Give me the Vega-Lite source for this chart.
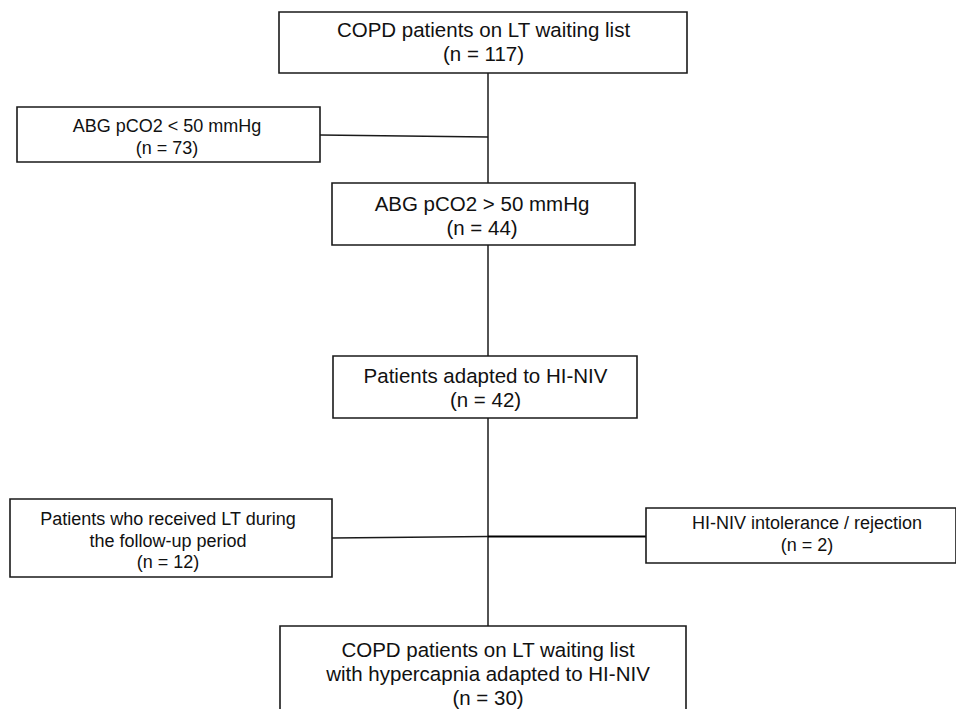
{
  "$schema": "https://vega.github.io/schema/vega-lite/v6.json",
  "width": 956,
  "height": 709,
  "padding": 0,
  "autosize": {"type": "none"},
  "background": "white",
  "config": {"view": {"stroke": null}},
  "datasets": {
    "boxes": [
      {"id": "top", "kind": "main", "x0": 279, "x1": 687, "y0": 12, "y1": 73, "tx": 483.5, "ty": 31, "label": "COPD patients on LT waiting list\n(n = 117)"},
      {"id": "low", "kind": "side", "x0": 17, "x1": 320, "y0": 107, "y1": 162, "tx": 167, "ty": 127, "label": "ABG pCO2 < 50 mmHg\n(n = 73)"},
      {"id": "high", "kind": "main", "x0": 332, "x1": 635, "y0": 183, "y1": 245, "tx": 482, "ty": 205, "label": "ABG pCO2 > 50 mmHg\n(n = 44)"},
      {"id": "adapted", "kind": "main", "x0": 333, "x1": 637, "y0": 356, "y1": 418, "tx": 485.5, "ty": 377, "label": "Patients adapted to HI-NIV\n(n = 42)"},
      {"id": "lt", "kind": "side", "x0": 10, "x1": 332, "y0": 499, "y1": 577, "tx": 168, "ty": 520, "label": "Patients who received LT during\nthe follow-up period\n(n = 12)"},
      {"id": "intol", "kind": "side", "x0": 646, "x1": 956, "y0": 508, "y1": 563, "tx": 807, "ty": 524, "label": "HI-NIV intolerance / rejection\n(n = 2)"},
      {"id": "final", "kind": "main", "x0": 280, "x1": 686, "y0": 626, "y1": 745, "tx": 488, "ty": 651, "label": "COPD patients on LT waiting list\nwith hypercapnia adapted to HI-NIV\n(n = 30)"}
    ],
    "links": [
      {"from": "top", "to": "high", "xa": 488, "ya": 73, "xb": 488, "yb": 183},
      {"from": "trunk", "to": "low", "xa": 320, "ya": 135, "xb": 488, "yb": 137},
      {"from": "high", "to": "adapted", "xa": 488, "ya": 245, "xb": 488, "yb": 356},
      {"from": "adapted", "to": "final", "xa": 488, "ya": 418, "xb": 488, "yb": 626},
      {"from": "trunk", "to": "lt", "xa": 332, "ya": 538, "xb": 488, "yb": 536.5}
    ],
    "mainlinks": [
      {"from": "trunk", "to": "intol", "xa": 488, "ya": 536.5, "xb": 646, "yb": 536.5}
    ]
  },
  "layer": [
    {
      "data": {"name": "links"},
      "mark": {"type": "rule", "color": "#1a1a1a", "strokeWidth": 1.5},
      "encoding": {
        "x": {"field": "xa", "type": "quantitative", "scale": {"domain": [0, 956], "nice": false, "zero": false}, "axis": null},
        "y": {"field": "ya", "type": "quantitative", "scale": {"domain": [0, 709], "nice": false, "zero": false, "reverse": true}, "axis": null},
        "x2": {"field": "xb"},
        "y2": {"field": "yb"}
      }
    },
    {
      "data": {"name": "mainlinks"},
      "mark": {"type": "rule", "color": "#000", "strokeWidth": 2.2},
      "encoding": {
        "x": {"field": "xa", "type": "quantitative", "scale": {"domain": [0, 956], "nice": false, "zero": false}, "axis": null},
        "y": {"field": "ya", "type": "quantitative", "scale": {"domain": [0, 709], "nice": false, "zero": false, "reverse": true}, "axis": null},
        "x2": {"field": "xb"},
        "y2": {"field": "yb"}
      }
    },
    {
      "data": {"name": "boxes"},
      "mark": {"type": "rect", "fill": "white", "stroke": "#1a1a1a", "strokeWidth": 1.6, "clip": true},
      "encoding": {
        "x": {"field": "x0", "type": "quantitative", "scale": {"domain": [0, 956], "nice": false, "zero": false}, "axis": null},
        "x2": {"field": "x1"},
        "y": {"field": "y0", "type": "quantitative", "scale": {"domain": [0, 709], "nice": false, "zero": false, "reverse": true}, "axis": null},
        "y2": {"field": "y1"}
      }
    },
    {
      "data": {"name": "boxes"},
      "transform": [{"filter": "datum.kind === 'main'"}],
      "mark": {"type": "text", "font": "Liberation Sans", "fontSize": 20.5, "lineHeight": 24, "lineBreak": "\n", "align": "center", "baseline": "middle", "color": "#111"},
      "encoding": {
        "x": {"field": "tx", "type": "quantitative", "scale": {"domain": [0, 956], "nice": false, "zero": false}, "axis": null},
        "y": {"field": "ty", "type": "quantitative", "scale": {"domain": [0, 709], "nice": false, "zero": false, "reverse": true}, "axis": null},
        "text": {"field": "label"}
      }
    },
    {
      "data": {"name": "boxes"},
      "transform": [{"filter": "datum.kind === 'side'"}],
      "mark": {"type": "text", "font": "Liberation Sans", "fontSize": 18, "lineHeight": 21.5, "lineBreak": "\n", "align": "center", "baseline": "middle", "color": "#111"},
      "encoding": {
        "x": {"field": "tx", "type": "quantitative", "scale": {"domain": [0, 956], "nice": false, "zero": false}, "axis": null},
        "y": {"field": "ty", "type": "quantitative", "scale": {"domain": [0, 709], "nice": false, "zero": false, "reverse": true}, "axis": null},
        "text": {"field": "label"}
      }
    }
  ]
}
